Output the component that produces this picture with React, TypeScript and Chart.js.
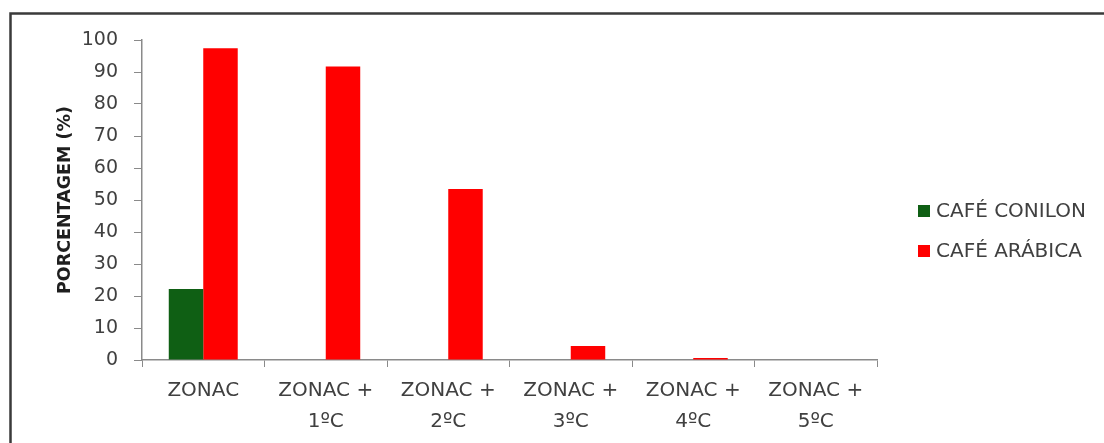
import React, { useEffect, useRef } from "react";
import { Chart, registerables } from "chart.js";

Chart.register(...registerables);

const categories: (string | string[])[] = [
  "ZONAC",
  ["ZONAC +", "1ºC"],
  ["ZONAC +", "2ºC"],
  ["ZONAC +", "3ºC"],
  ["ZONAC +", "4ºC"],
  ["ZONAC +", "5ºC"],
];
const conilonValues = [22.2, 0, 0, 0, 0, 0];
const arabicaValues = [97.4, 91.7, 53.4, 4.4, 0.6, 0];
const seriesNames = ["CAFÉ CONILON", "CAFÉ ARÁBICA"];
const seriesColors = ["#0f5f14", "#ff0000"];
const yTitle = "PORCENTAGEM (%)";

const FONT = "'DejaVu Sans', sans-serif";

const framePlugin = {
  id: "frameBg",
  beforeDraw(chart: any) {
    const { ctx, width, height } = chart;
    ctx.save();
    ctx.fillStyle = "#ffffff";
    ctx.fillRect(0, 0, width, height);
    ctx.strokeStyle = "#3a3a3a";
    ctx.lineWidth = 2.5;
    ctx.beginPath();
    ctx.moveTo(10.5, height + 10);
    ctx.lineTo(10.5, 13.5);
    ctx.lineTo(width + 10, 13.5);
    ctx.stroke();
    ctx.restore();
  },
};

const legendPlugin = {
  id: "customLegend",
  afterDraw(chart: any) {
    const { ctx } = chart;
    ctx.save();
    ctx.font = `20px ${FONT}`;
    ctx.textBaseline = "middle";
    ctx.textAlign = "left";
    chart.data.datasets.forEach((ds: any, i: number) => {
      const cy = 211 + i * 40;
      ctx.fillStyle = ds.backgroundColor;
      ctx.fillRect(918, cy - 6, 12, 12);
      ctx.fillStyle = "#404040";
      ctx.fillText(ds.label, 936, cy + 1);
    });
    ctx.restore();
  },
};

export default function App() {
  const ref = useRef<HTMLCanvasElement | null>(null);
  useEffect(() => {
    if (!ref.current) return;
    const chart = new Chart(ref.current, {
      type: "bar",
      data: {
        labels: categories as any,
        datasets: [
          {
            label: seriesNames[0],
            data: conilonValues,
            backgroundColor: seriesColors[0],
            categoryPercentage: 0.563,
            barPercentage: 1,
          },
          {
            label: seriesNames[1],
            data: arabicaValues,
            backgroundColor: seriesColors[1],
            categoryPercentage: 0.563,
            barPercentage: 1,
          },
        ],
      },
      options: {
        responsive: false,
        animation: false,
        layout: { padding: { left: 0, top: 40, right: 227, bottom: 0 } },
        plugins: {
          legend: { display: false },
          tooltip: { enabled: false },
        },
        scales: {
          x: {
            offset: true,
            grid: {
              offset: true,
              drawOnChartArea: false,
              drawTicks: true,
              tickLength: 7,
              color: "#8a8a8a",
            },
            border: { color: "#8a8a8a", width: 1.5 },
            ticks: {
              color: "#404040",
              font: { family: FONT, size: 20, lineHeight: 1.55 },
              padding: 8,
              maxRotation: 0,
              autoSkip: false,
            },
            afterFit(scale: any) {
              scale.height = 83;
            },
          },
          y: {
            min: 0,
            max: 100,
            ticks: {
              stepSize: 10,
              color: "#404040",
              font: { family: FONT, size: 19 },
              padding: 16,
            },
            grid: {
              drawOnChartArea: false,
              drawTicks: true,
              tickLength: 8,
              color: "#8a8a8a",
            },
            border: { color: "#8a8a8a", width: 1.5 },
            title: {
              display: true,
              text: yTitle,
              color: "#1e1e1e",
              font: { family: FONT, size: 17.5, weight: "bold" },
              padding: { top: 55, bottom: 0 },
            },
            afterFit(scale: any) {
              scale.width = 142;
            },
          },
        },
      },
      plugins: [framePlugin, legendPlugin],
    });
    return () => chart.destroy();
  }, []);

  return (
    <div style={{ position: "fixed", left: 0, top: 0, width: 1104, height: 443, background: "#fff" }}>
      <canvas ref={ref} width={1104} height={443} style={{ display: "block" }} />
    </div>
  );
}
